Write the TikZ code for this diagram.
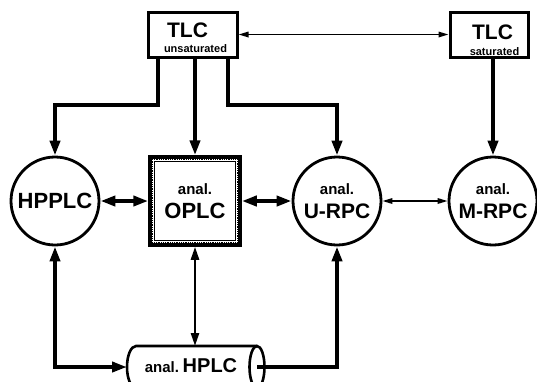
\documentclass[tikz,border=0pt]{standalone}
\usepackage{fontspec}
\setmainfont{Liberation Sans}
\usetikzlibrary{arrows.meta,calc}
\newcommand\bigsz{\fontsize{22}{24}\selectfont}
\newcommand\midsz{\fontsize{21}{24}\selectfont}
\newcommand\anlsz{\fontsize{15}{24}\selectfont}
\newcommand\tinysz{\fontsize{11}{12}\selectfont}
\tikzset{
  bighead/.tip={Triangle[length=15pt,width=10pt]},
  medhead/.tip={Triangle[length=13pt,width=8pt]},
  smallhead/.tip={Triangle[length=10pt,width=5.5pt]},
}
\begin{document}
\begin{tikzpicture}[x=1pt,y=-1pt,
  every node/.style={font=\bfseries},
  station/.style={circle, draw, line width=2.8, minimum size=88, inner sep=0, align=center, font=\bfseries\anlsz},
  tlcbox/.style={draw, line width=3, minimum width=89, minimum height=45, inner sep=0},
  lbl/.style={anchor=base, inner sep=0},
  thickconn/.style={line width=4, line join=miter},
  medconn/.style={line width=2.5},
  thinconn/.style={line width=1.6},
]
\useasboundingbox (0,0) rectangle (537,381);
\clip (0,0) rectangle (537,381);

% TLC boxes
\node[tlcbox] (tlcu) at (192.5,34.5) {};
\node[lbl, font=\bfseries\fontsize{21}{24}\selectfont] (tlcut) at (187.5,37) {TLC};
\node[lbl, font=\bfseries\tinysz] (tlcus) at (195.5,52.5) {unsaturated};

\node[tlcbox, minimum width=78] (tlcs) at (489,34.5) {};
\node[lbl, font=\bfseries\fontsize{21}{24}\selectfont] (tlcst) at (492.5,39) {TLC};
\node[lbl, font=\bfseries\tinysz] (tlcss) at (494.5,55) {saturated};

% stations
\node[station, font=\bfseries\bigsz] (hpplc) at (55,201) {HPPLC};
\node[station] (urpc) at (337,201) {anal.\\{\midsz U-RPC}};
\node[station] (mrpc) at (493,201) {anal.\\{\midsz M-RPC}};

% OPLC box
\node[draw, line width=3.5, minimum width=90, minimum height=88, inner sep=0, align=center, font=\bfseries\anlsz] (oplc) at (195,201) {anal.\\{\bigsz OPLC}};
\draw[line width=2.2, dash pattern=on 0.9pt off 0.9pt] ([shift={(3.6,3.6)}]oplc.north west) rectangle ([shift={(-3.6,-3.6)}]oplc.south east);
\draw[line width=1.2] ([shift={(6,6)}]oplc.north west) rectangle ([shift={(-6,-6)}]oplc.south east);

% anal. HPLC cylinder
\coordinate (cylL) at (127,367);
\coordinate (cylR) at (257,367);
\coordinate (cylT) at (195,346);
\draw[line width=2.6] (257,346) -- (136,346) arc[start angle=270, end angle=90, x radius=9, y radius=21] -- (257,388);
\draw[line width=2.6] (cylR) ellipse[x radius=7.5, y radius=21];
\node[lbl] (hplc) at (191,372) {{\anlsz anal.} {\fontsize{20}{24}\selectfont HPLC}};

% connectors from TLC unsaturated
\draw[thickconn, -bighead] ([xshift=-34.5]tlcu.south) -- ++(0,46) -| (hpplc.north);
\draw[thickconn, -bighead] (oplc.north |- tlcu.south) -- (oplc.north);
\draw[thickconn, -bighead] ([xshift=35.5]tlcu.south) -- ++(0,46) -| (urpc.north);
\draw[thinconn, smallhead-smallhead] (tlcu.east) -- (tlcs.west);
\draw[thickconn, -bighead] (mrpc.north |- tlcs.south) -- (mrpc.north);

% horizontal links
\draw[thickconn, bighead-bighead] (hpplc.east) -- (oplc.west);
\draw[thickconn, bighead-bighead] (oplc.east) -- (urpc.west);
\draw[thinconn, smallhead-smallhead] (urpc.east) -- (mrpc.west);

% links to anal. HPLC
\draw[medconn, medhead-medhead] (oplc.south) -- (cylT);
\draw[thickconn, bighead-bighead] (hpplc.south) |- (cylL);
\draw[thickconn, -bighead] (cylR) -| (urpc.south);
\end{tikzpicture}
\end{document}
